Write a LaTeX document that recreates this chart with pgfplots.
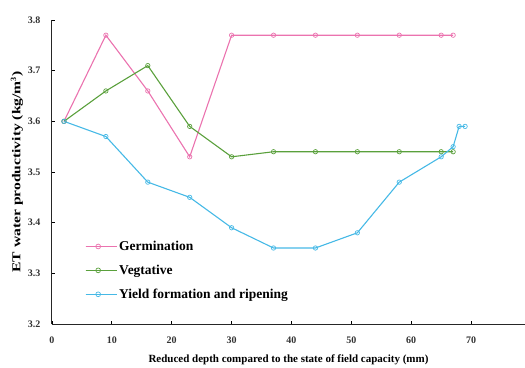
\documentclass[border=0pt]{standalone}
\usepackage{pgfplots}
\pgfplotsset{compat=1.18}
\usepackage{fontspec}
\setmainfont{Liberation Serif}
\newfontfamily\widefont[FakeStretch=1.3]{Liberation Serif}
\definecolor{cpink}{RGB}{235,115,175}
\definecolor{cgreen}{RGB}{90,160,60}
\definecolor{cblue}{RGB}{70,185,230}
\begin{document}
\begin{tikzpicture}
\begin{axis}[
  scale only axis,
  width=473pt, height=304pt,
  xmin=0, xmax=79, ymin=3.2, ymax=3.8,
  axis lines=left,
  axis line style={-, line width=1pt, black!85},
  xtick={0,10,...,70},
  ytick={3.2,3.3,...,3.8},
  yticklabel style={/pgf/number format/fixed,/pgf/number format/precision=1,/pgf/number format/fixed zerofill, xshift=-8pt},
  xticklabel style={yshift=-9pt},
  tick align=inside,
  major tick length=3pt,
  tick style={black, line width=0.8pt},
  /pgf/number format/assume math mode=true,
  ticklabel style={font=\bfseries\fontsize{10}{11}\selectfont, text=black!80},
  xlabel={\bfseries Reduced depth compared to the state of field capacity (mm)},
  ylabel={\widefont\bfseries ET water productivity (kg/m$^{\mathbf{3}}$)},
  xlabel style={font=\fontsize{11}{12}\selectfont, yshift=-5pt},
  ylabel style={font=\fontsize{12}{13}\selectfont, yshift=-2pt},
  legend style={draw=none, fill=none, at={(axis cs:5.0,3.372)}, anchor=north west,
    font=\bfseries\fontsize{13.5}{14}\selectfont, row sep=9pt},
  legend cell align=left,
  legend image code/.code={\draw[#1,mark=none] (0pt,0pt) -- (25pt,0pt); \draw[#1,mark=none,solid,line width=0.7pt,fill=white] (0pt,0pt) ++(12.5pt,0pt) circle[radius=2.4pt]; \path (0pt,0pt) -- (31pt,0pt);},
  every axis plot/.append style={line width=1.1pt, mark=o, mark size=2.2pt, mark options={solid, line width=0.7pt, fill=white}},
  clip=false,
]
\addplot[cpink] coordinates {(2,3.60) (9,3.77) (16,3.66) (23,3.53) (30,3.77) (37,3.77) (44,3.77) (51,3.77) (58,3.77) (65,3.77) (67,3.77)};
\addlegendentry{Germination}
\addplot[cgreen] coordinates {(2,3.60) (9,3.66) (16,3.71) (23,3.59) (30,3.53) (37,3.54) (44,3.54) (51,3.54) (58,3.54) (65,3.54) (67,3.54)};
\addlegendentry{Vegtative}
\addplot[cblue] coordinates {(2,3.60) (9,3.57) (16,3.48) (23,3.45) (30,3.39) (37,3.35) (44,3.35) (51,3.38) (58,3.48) (65,3.53) (67,3.55) (68,3.59) (69,3.59)};
\addlegendentry{Yield formation and ripening}
\end{axis}
\pgfresetboundingbox
\path[use as bounding box] (-52pt,-43pt) rectangle (473pt,324pt);
\end{tikzpicture}
\end{document}
